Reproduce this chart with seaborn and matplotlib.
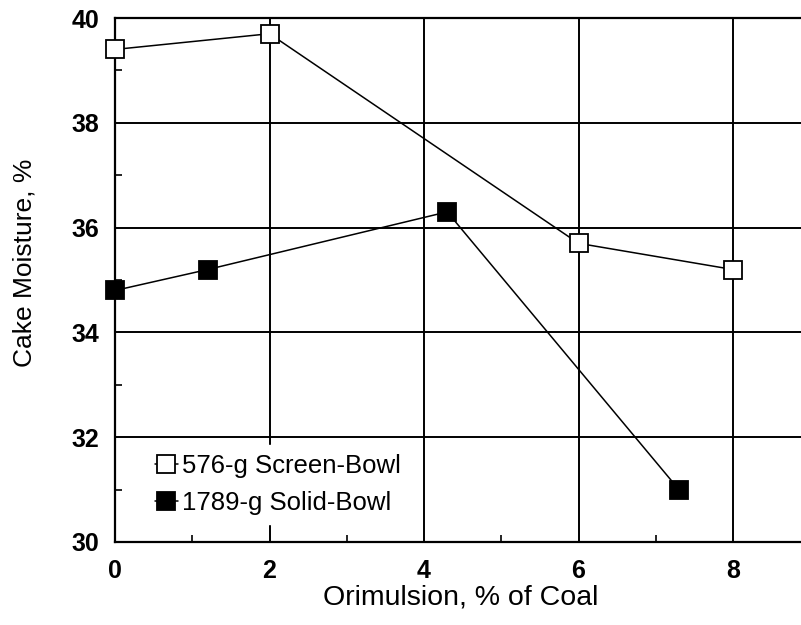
import matplotlib
matplotlib.use("Agg")
import matplotlib.pyplot as plt
from matplotlib.ticker import MultipleLocator
import seaborn as sns
import pandas as pd

# Cake moisture versus Orimulsion addition for two centrifuges
screen_x = [0, 2, 6, 8]
screen_y = [39.4, 39.7, 35.7, 35.2]
solid_x = [0, 1.2, 4.3, 7.3]
solid_y = [34.8, 35.2, 36.3, 31.0]
series_names = ["576-g Screen-Bowl", "1789-g Solid-Bowl"]
x_ticks = [0, 2, 4, 6, 8]
y_ticks = [30, 32, 34, 36, 38, 40]

sns.set_theme(style="white")
plt.rcParams["font.family"] = ["Liberation Sans", "DejaVu Sans"]
plt.rcParams["text.color"] = "black"

screen = pd.DataFrame({"x": screen_x, "y": screen_y})
solid = pd.DataFrame({"x": solid_x, "y": solid_y})

fig = plt.figure(figsize=(8.01, 6.25), dpi=100)
ax = fig.add_axes([115 / 801, 1 - 542 / 625, 1 - 115 / 801, (542 - 18) / 625])

sns.lineplot(data=screen, x="x", y="y", ax=ax, color="black", lw=1.1,
             marker="s", markersize=12.5, markerfacecolor="white",
             markeredgecolor="black", markeredgewidth=1.3,
             label=series_names[0], zorder=3, clip_on=False)
sns.lineplot(data=solid, x="x", y="y", ax=ax, color="black", lw=1.1,
             marker="s", markersize=12.5, markerfacecolor="black",
             markeredgecolor="black", markeredgewidth=1.3,
             label=series_names[1], zorder=3, clip_on=False)

ax.set_xlim(0, (801 - 115) / 77.25)
ax.set_ylim(30, 40)
ax.set_xticks(x_ticks)
ax.set_yticks(y_ticks)
ax.xaxis.set_minor_locator(MultipleLocator(1))
ax.yaxis.set_minor_locator(MultipleLocator(1))
ax.tick_params(which="major", direction="in", length=6, width=1.2,
               color="black", labelsize=18)
ax.tick_params(axis="y", which="major", pad=11)
ax.tick_params(axis="x", which="major", pad=12)
ax.tick_params(which="minor", direction="in", length=5, width=1.2,
               color="black", bottom=True, left=True)
ax.tick_params(axis="both", which="both", top=False, right=False)
for lab in ax.get_xticklabels() + ax.get_yticklabels():
    lab.set_fontweight("bold")
    lab.set_color("black")

ax.grid(True, which="major", color="black", lw=1.4)
ax.set_axisbelow(True)
for side in ["left", "bottom", "top"]:
    ax.spines[side].set_visible(True)
    ax.spines[side].set_color("black")
    ax.spines[side].set_linewidth(1.6)
ax.spines["right"].set_visible(False)

ax.set_xlabel("Orimulsion, % of Coal", fontsize=20.5, color="black")
ax.set_ylabel("Cake Moisture, %", fontsize=19, color="black")
ax.xaxis.set_label_coords((461 - 115) / 686, -(605 - 542) / 524, transform=ax.transAxes)
ax.yaxis.set_label_coords(-(115 - 25) / 686, (542 - 263) / 524, transform=ax.transAxes)
ax.xaxis.label.set_verticalalignment("baseline")
ax.yaxis.label.set_verticalalignment("center")

leg = ax.legend(loc="lower left", bbox_to_anchor=(0.045, 0.035), frameon=True,
                fontsize=18.5, handlelength=0.9, handletextpad=0.15,
                borderpad=0.35, labelspacing=0.5, borderaxespad=0)
leg.get_frame().set_facecolor("white")
leg.get_frame().set_edgecolor("white")
leg.get_frame().set_alpha(1)
leg.set_zorder(5)
for t in leg.get_texts():
    t.set_color("black")

fig.savefig("out.png", dpi=100)
